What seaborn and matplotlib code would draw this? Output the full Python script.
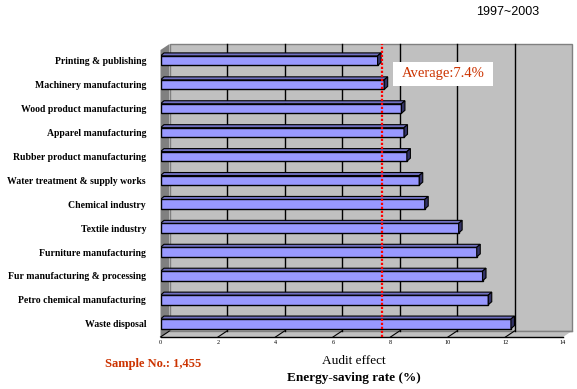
import matplotlib
matplotlib.use('Agg')
import matplotlib.pyplot as plt
import seaborn as sns
import pandas as pd
from matplotlib.patches import Polygon, Rectangle

sectors = [
    "Printing & publishing",
    "Machinery manufacturing",
    "Wood product manufacturing",
    "Apparel manufacturing",
    "Rubber product manufacturing",
    "Water treatment & supply works",
    "Chemical industry",
    "Textile industry",
    "Furniture manufacturing",
    "Fur manufacturing & processing",
    "Petro chemical manufacturing",
    "Waste disposal",
]
rates = [7.55, 7.78, 8.38, 8.47, 8.57, 9.0, 9.19, 10.37, 11.0, 11.2, 11.4, 12.19]
average = 7.4
xticks = [0, 2, 4, 6, 8, 10, 12, 14]

SERIF = 'Liberation Serif'
RED = '#CC3300'

W, H = 577, 389
fig = plt.figure(figsize=(W / 100, H / 100), dpi=100)
fig.patch.set_facecolor('white')

# front plane of the "3d" chart, in pixels
ax_l, ax_r, ax_t, ax_b = 160.5, 563, 50, 337
ax = fig.add_axes([ax_l / W, 1 - ax_b / H, (ax_r - ax_l) / W, (ax_b - ax_t) / H])
ax.set_facecolor('none')

df = pd.DataFrame({'sector': sectors, 'rate': rates})
sns.barplot(data=df, x='rate', y='sector', orient='h', color='#9999FF', saturation=1,
            width=0.4, edgecolor='black', linewidth=1, ax=ax, zorder=2)

yb, yt = 11.55, -0.447
ax.set_xlim(0, 14)
ax.set_ylim(yb, yt)

# pixel -> data unit conversion for the depth offsets
px = 14 / (ax_r - ax_l)
py = (yb - yt) / (ax_b - ax_t)
wdx, wdy = 9 * px, 6 * py      # back wall depth
bdx, bdy = 3.5 * px, 3 * py    # bar depth

# back wall
ax.add_patch(Rectangle((wdx, yt - wdy), 14, yb - yt, fc='#C0C0C0', ec='#808080',
                       lw=1, zorder=0.2, clip_on=False))
for k in xticks[1:-1]:
    ax.plot([k + wdx] * 2, [yb - wdy, yt - wdy], color='black', lw=1, zorder=0.5, clip_on=False)

# floor
ax.add_patch(Polygon([(0, yb), (14, yb), (14 + wdx, yb - wdy), (wdx, yb - wdy)],
                     closed=True, fc='#C0C0C0', ec='none', zorder=0.3, clip_on=False))
ax.plot([wdx, 14 + wdx], [yb - wdy, yb - wdy], color='#808080', lw=1, zorder=0.4, clip_on=False)
for k in xticks[:-1]:
    ax.plot([k, k + wdx], [yb, yb - wdy], color='black', lw=0.8, zorder=0.5, clip_on=False)

# left side wall
ax.add_patch(Polygon([(0, yb), (0, yt), (wdx, yt - wdy), (wdx, yb - wdy)],
                     closed=True, fc='#808080', ec='none', zorder=0.3, clip_on=False))

# bar top and end faces
for p in list(ax.patches):
    if not isinstance(p, Rectangle) or p.get_facecolor()[:3] == (0.0, 0.0, 0.0):
        continue
    if p.get_zorder() != 2:
        continue
    x0, y0, w, h = p.get_x(), p.get_y(), p.get_width(), p.get_height()
    ax.add_patch(Polygon([(x0, y0), (x0 + w, y0), (x0 + w + bdx, y0 - bdy), (x0 + bdx, y0 - bdy)],
                         closed=True, fc='#7070C0', ec='black', lw=0.8, zorder=2.1))
    ax.add_patch(Polygon([(x0 + w, y0), (x0 + w, y0 + h), (x0 + w + bdx, y0 + h - bdy),
                          (x0 + w + bdx, y0 - bdy)],
                         closed=True, fc='#333366', ec='black', lw=0.8, zorder=2.1))

# average line
ax.plot([average + wdx] * 2, [yb, yt - wdy], color='red', lw=1.6,
        linestyle=(0, (1, 0.8)), zorder=3, clip_on=False)

for s in ['top', 'right', 'left']:
    ax.spines[s].set_visible(False)
ax.spines['bottom'].set_color('black')
ax.spines['bottom'].set_linewidth(1)
ax.spines['bottom'].set_zorder(2.5)

ax.set_xticks(xticks)
ax.set_xticklabels([str(t) for t in xticks], fontsize=4.5, family=SERIF)
ax.tick_params(axis='x', length=0, pad=2.5)
ax.tick_params(axis='y', length=0, pad=10.4)
for lbl in ax.get_yticklabels():
    lbl.set_fontfamily(SERIF)
    lbl.set_fontweight('bold')
    lbl.set_fontsize(7)
ax.set_xlabel('')
ax.set_ylabel('')
ax.grid(False)

# average label box
fig.add_artist(Rectangle((393 / W, 1 - 86 / H), 100 / W, 24 / H, transform=fig.transFigure,
                         fc='white', ec='none', zorder=5))
fig.text(443 / W, 1 - 74 / H, 'Average:7.4%', ha='center', va='center', fontsize=10.5,
         color=RED, family=SERIF, zorder=6)

fig.text(508 / W, 1 - 12 / H, '1997~2003', ha='center', va='center', fontsize=9,
         family='Liberation Sans')
fig.text(153 / W, 1 - 364 / H, 'Sample No.: 1,455', ha='center', va='center', fontsize=9,
         color=RED, family=SERIF, fontweight='bold')
fig.text(354 / W, 1 - 361 / H, 'Audit effect', ha='center', va='center', fontsize=9.5, family=SERIF)
fig.text(354 / W, 1 - 378 / H, 'Energy-saving rate (%)', ha='center', va='center', fontsize=9.5,
         family=SERIF, fontweight='bold')

fig.savefig('out.png', dpi=100)
